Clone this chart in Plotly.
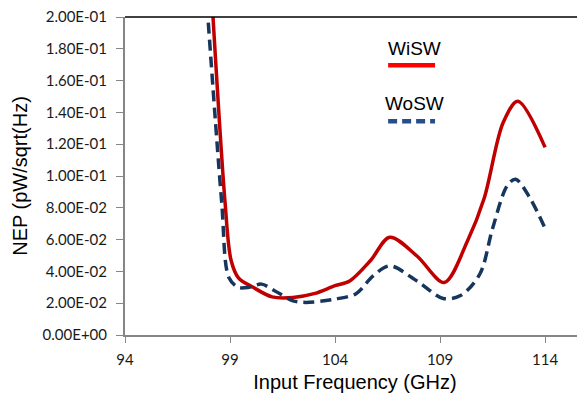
import plotly.graph_objects as go

# values (GHz, pW/sqrt(Hz))
wisw_freq = [98.1, 98.76, 99.05, 99.4, 100.1, 101.0, 102.0, 103.0, 104.0, 104.7, 105.7,
             106.6, 107.9, 109.2, 110.3, 111.1, 112.0, 112.7, 114.0]
wisw_nep = [0.22, 0.084, 0.047, 0.036, 0.030, 0.024, 0.0236, 0.026, 0.031, 0.034, 0.047,
            0.0615, 0.0497, 0.033, 0.059, 0.086, 0.1335, 0.147, 0.118]

wosw_freq = [97.85, 98.6, 98.95, 99.4, 99.9, 100.5, 101.1, 102.0, 102.6, 103.9, 105.0,
             105.8, 106.6, 107.9, 109.15, 110.0, 110.9, 111.5, 112.2, 112.6, 113.3, 114.0]
wosw_nep = [0.218, 0.084, 0.036, 0.030, 0.030, 0.032, 0.028, 0.0215, 0.0205, 0.0224, 0.026,
            0.037, 0.0435, 0.034, 0.023, 0.025, 0.0385, 0.067, 0.094, 0.098, 0.0857, 0.067]

x_ticks = [94, 99, 104, 109, 114]
y_ticks = [0.0, 0.02, 0.04, 0.06, 0.08, 0.10, 0.12, 0.14, 0.16, 0.18, 0.20]
y_labels = [f"{v:.2E}" for v in y_ticks]

fig = go.Figure()
fig.add_trace(go.Scatter(x=wisw_freq, y=wisw_nep, mode="lines", name="WiSW",
                         line=dict(color="#c00000", width=3.5, shape="spline", smoothing=0.9)))
fig.add_trace(go.Scatter(x=wosw_freq, y=wosw_nep, mode="lines", name="WoSW",
                         line=dict(color="#17365d", width=3.5, shape="spline", smoothing=0.9,
                                   dash="11px,6px")))

axis_font = dict(family="Lato", size=15, color="#1a1a1a")
title_font = dict(family="Liberation Sans", size=20, color="black")

# page body has an 8px margin, so the figure is 8px smaller than the window;
# top margin leaves room for the 2.00E-01 label
fig.update_layout(
    width=577, height=392,
    margin=dict(l=117, r=0, t=9, b=65),
    plot_bgcolor="white", paper_bgcolor="white",
    showlegend=False,
    xaxis=dict(range=[94, 115.9], tickvals=x_ticks, showgrid=False, zeroline=False,
               showline=True, linecolor="#868686", linewidth=2, automargin=False,
               ticks="outside", ticklen=6, tickcolor="#868686", tickwidth=1,
               tickfont=axis_font, ticklabelstandoff=4,
               title=dict(text="Input Frequency (GHz)", font=title_font, standoff=8)),
    yaxis=dict(range=[0, 0.2], tickvals=y_ticks, ticktext=y_labels, showgrid=False,
               zeroline=False, showline=True, linecolor="#868686", linewidth=2,
               automargin=False,
               ticks="outside", ticklen=7, tickcolor="#868686", tickwidth=1,
               tickfont=axis_font, ticklabelstandoff=6, ticklabeloverflow="allow",
               title=dict(text="NEP (pW/sqrt(Hz)", font=title_font, standoff=10)),
)

# black top border
fig.add_shape(type="line", xref="paper", yref="paper", x0=0, x1=1, y0=1, y1=1,
              line=dict(color="black", width=1.5))

# legend drawn as in the original: label above its line sample
leg_font = dict(family="Liberation Sans", size=19, color="black")
fig.add_annotation(text="WiSW", xref="paper", yref="paper", x=0.630, y=0.90,
                   xanchor="center", yanchor="middle", showarrow=False, font=leg_font)
fig.add_shape(type="line", xref="paper", yref="paper", x0=0.572, x1=0.674, y0=0.848, y1=0.848,
              line=dict(color="#ff0000", width=4.5))
fig.add_annotation(text="WoSW", xref="paper", yref="paper", x=0.630, y=0.728,
                   xanchor="center", yanchor="middle", showarrow=False, font=leg_font)
fig.add_shape(type="line", xref="paper", yref="paper", x0=0.572, x1=0.674, y0=0.672, y1=0.672,
              line=dict(color="#254f8c", width=4.5, dash="9px,5px"))

fig.write_html("out.html")
